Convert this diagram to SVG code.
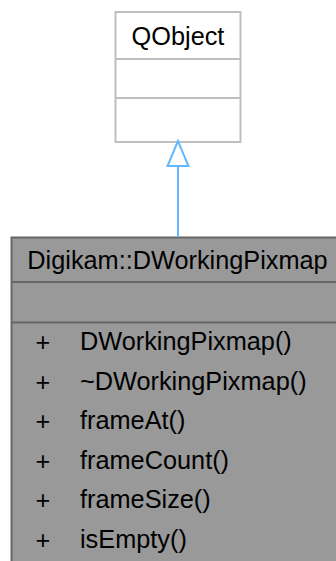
<svg xmlns="http://www.w3.org/2000/svg" width="336" height="561" viewBox="0 0 336 561">
<style>
text{font-family:"Liberation Sans",Arial,Helvetica,sans-serif;font-size:25.3px;fill:#000}
.c{text-anchor:middle}
.q{fill:#fff;stroke:#bfbfbf;stroke-width:2}
.d{fill:#999;stroke:#666;stroke-width:2}
.e{stroke:#63b8ff;stroke-width:2;fill:none}
.h{fill:#fff;stroke:#63b8ff;stroke-width:2}
</style>
<rect width="336" height="561" fill="#fff"/>
<g id="node-qobject">
<rect class="q" x="115.5" y="12" width="125" height="130"/>
<line class="q" x1="115.5" y1="59" x2="240.5" y2="59"/>
<line class="q" x1="115.5" y1="98" x2="240.5" y2="98"/>
<text class="c" x="178" y="45">QObject</text>
</g>
<g id="node-dworkingpixmap">
<rect class="d" x="11.5" y="237.5" width="333" height="340"/>
<line class="d" x1="11.5" y1="282" x2="344.5" y2="282"/>
<line class="d" x1="11.5" y1="322.5" x2="344.5" y2="322.5"/>
<text class="c" x="177.5" y="269">Digikam::DWorkingPixmap</text>
<g class="c">
<text x="43" y="351">+</text>
<text x="43" y="390.5">+</text>
<text x="43" y="430">+</text>
<text x="43" y="469.5">+</text>
<text x="43" y="509">+</text>
<text x="43" y="548.5">+</text>
</g>
<text x="80" y="350">DWorkingPixmap()</text>
<text x="80" y="389.5">~DWorkingPixmap()</text>
<text x="80" y="429">frameAt()</text>
<text x="80" y="468.5">frameCount()</text>
<text x="80" y="508">frameSize()</text>
<text x="80" y="547.5">isEmpty()</text>
</g>
<g id="connectors">
<line class="e" x1="178" y1="237" x2="178" y2="166"/>
<polygon class="h" points="178,141 167.5,166 188.5,166"/>
</g>
</svg>
